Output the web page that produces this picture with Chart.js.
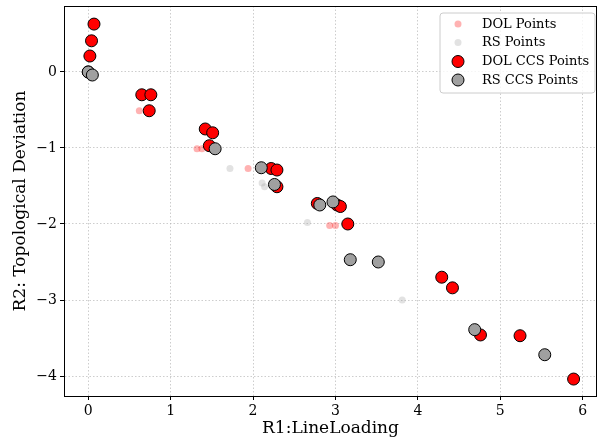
<!DOCTYPE html>
<html>
<head>
<meta charset="utf-8">
<script src="https://cdn.jsdelivr.net/npm/chart.js@4.4.1/dist/chart.umd.min.js"></script>
<style>
html,body{margin:0;padding:0;background:#fff;}
canvas{display:block;}
</style>
</head>
<body>
<canvas id="c" width="597" height="439"></canvas>
<script>
// ---- Data ----
const dolX = [0.00, 0.62, 1.32, 1.38, 1.94, 2.93, 3.00];
const dolY = [0.00, -0.51, -1.01, -1.01, -1.27, -2.02, -2.02];
const rsX = [0.00, 1.72, 2.11, 2.14, 2.66, 3.81];
const rsY = [0.00, -1.27, -1.46, -1.51, -1.98, -3.00];
const dolCcsX = [0.07, 0.04, 0.02, 0.00, 0.65, 0.76, 0.74, 1.42, 1.51, 1.47, 2.22, 2.29, 2.29, 2.78, 3.02, 3.06, 3.15, 4.29, 4.42, 4.76, 5.24, 5.89];
const dolCcsY = [0.63, 0.41, 0.21, 0.00, -0.30, -0.30, -0.51, -0.75, -0.80, -0.97, -1.27, -1.29, -1.51, -1.73, -1.75, -1.77, -2.00, -2.70, -2.84, -3.46, -3.47, -4.04];
const rsCcsX = [0.00, 0.05, 1.54, 2.10, 2.26, 2.81, 2.97, 3.18, 3.52, 4.69, 5.54];
const rsCcsY = [0.00, -0.04, -1.01, -1.26, -1.48, -1.75, -1.71, -2.47, -2.50, -3.39, -3.72];
const seriesNames = ['DOL Points', 'RS Points', 'DOL CCS Points', 'RS CCS Points'];
const xTicks = [0, 1, 2, 3, 4, 5, 6];
const yTicks = [-4, -3, -2, -1, 0];
const xLabel = 'R1:LineLoading';
const yLabel = 'R2: Topological Deviation';

const pts = (xs, ys) => xs.map((x, i) => ({x: x, y: ys[i]}));
const SERIF = "'DejaVu Serif', serif";
Chart.defaults.color = '#000';
Chart.defaults.font.family = SERIF;

const styles = [
  {bg: 'rgba(255,0,0,0.3)', border: 'rgba(0,0,0,0)', r: 3.5, bw: 0},
  {bg: 'rgba(160,160,160,0.3)', border: 'rgba(0,0,0,0)', r: 3.5, bw: 0},
  {bg: '#ff0000', border: '#000', r: 6, bw: 1},
  {bg: '#a0a0a0', border: '#000', r: 6, bw: 1}
];
const dataSets = [pts(dolX, dolY), pts(rsX, rsY), pts(dolCcsX, dolCcsY), pts(rsCcsX, rsCcsY)];

const datasets = dataSets.map((d, i) => ({
  label: seriesNames[i],
  data: d,
  backgroundColor: styles[i].bg,
  borderColor: styles[i].border,
  borderWidth: styles[i].bw,
  pointRadius: styles[i].r,
  pointHoverRadius: styles[i].r,
  clip: false,
  order: 4 - i
}));

const frameAndLegend = {
  id: 'frameAndLegend',
  afterDraw(chart) {
    const ctx = chart.ctx;
    const a = chart.chartArea;
    ctx.save();
    ctx.strokeStyle = '#000';
    ctx.lineWidth = 1;
    ctx.strokeRect(Math.round(a.left) + 0.5, Math.round(a.top) + 0.5, Math.round(a.right - a.left) - 1, Math.round(a.bottom - a.top));
    // legend
    const lx = 440, ly = 13, lw = 155, lh = 80, rr = 3;
    ctx.beginPath();
    ctx.moveTo(lx + rr, ly);
    ctx.lineTo(lx + lw - rr, ly);
    ctx.quadraticCurveTo(lx + lw, ly, lx + lw, ly + rr);
    ctx.lineTo(lx + lw, ly + lh - rr);
    ctx.quadraticCurveTo(lx + lw, ly + lh, lx + lw - rr, ly + lh);
    ctx.lineTo(lx + rr, ly + lh);
    ctx.quadraticCurveTo(lx, ly + lh, lx, ly + lh - rr);
    ctx.lineTo(lx, ly + rr);
    ctx.quadraticCurveTo(lx, ly, lx + rr, ly);
    ctx.closePath();
    ctx.fillStyle = 'rgba(255,255,255,0.8)';
    ctx.fill();
    ctx.strokeStyle = '#cccccc';
    ctx.stroke();
    const rows = [24, 42.5, 61.5, 80];
    ctx.font = '13px ' + SERIF;
    ctx.textBaseline = 'middle';
    ctx.textAlign = 'left';
    seriesNames.forEach((name, i) => {
      const s = styles[i];
      ctx.beginPath();
      ctx.arc(458, rows[i], s.r, 0, Math.PI * 2);
      ctx.fillStyle = s.bg;
      ctx.fill();
      if (s.bw) { ctx.lineWidth = s.bw; ctx.strokeStyle = s.border; ctx.stroke(); }
      ctx.fillStyle = '#000';
      ctx.fillText(name, 482, rows[i] + 0.5);
    });
    ctx.restore();
  }
};

const fmt = v => String(v).replace('-', '\u2212');
const zeroPad = s => { s.paddingLeft = 0; s.paddingRight = 0; s.paddingTop = 0; s.paddingBottom = 0; };

new Chart(document.getElementById('c'), {
  type: 'scatter',
  data: {datasets: datasets},
  options: {
    responsive: false,
    animation: false,
    events: [],
    layout: {autoPadding: false, padding: {top: 6, right: 0, left: 0, bottom: 0}},
    plugins: {legend: {display: false}, tooltip: {enabled: false}},
    scales: {
      x: {
        type: 'linear',
        min: -0.294, max: 6.174,
        afterBuildTicks: s => { s.ticks = xTicks.map(v => ({value: v})); },
        afterFit: s => { s.height = 43; zeroPad(s); },
        ticks: {font: {size: 14, family: SERIF}, color: '#000', padding: 3, maxRotation: 0, callback: v => fmt(v)},
        grid: {color: 'rgba(176,176,176,0.8)', lineWidth: 0.8, tickColor: '#000', tickLength: 4, tickWidth: 1, tickBorderDash: [], drawTicks: true},
        border: {display: true, color: '#000', width: 1, dash: [1.5, 2]},
        title: {display: true, text: xLabel, font: {size: 17, family: SERIF}, color: '#000', padding: {top: 0, bottom: 0}}
      },
      y: {
        type: 'linear',
        min: -4.263, max: 0.868,
        afterBuildTicks: s => { s.ticks = yTicks.map(v => ({value: v})); },
        afterFit: s => { s.width = 64; zeroPad(s); },
        ticks: {font: {size: 14, family: SERIF}, color: '#000', padding: 3, callback: v => fmt(v)},
        grid: {color: 'rgba(176,176,176,0.8)', lineWidth: 0.8, tickColor: '#000', tickLength: 4, tickWidth: 1, tickBorderDash: [], drawTicks: true},
        border: {display: true, color: '#000', width: 1, dash: [1.5, 2]},
        title: {display: true, text: yLabel, font: {size: 17, family: SERIF}, color: '#000', padding: {top: 10, bottom: 0}}
      }
    }
  },
  plugins: [frameAndLegend]
});
</script>
</body>
</html>
